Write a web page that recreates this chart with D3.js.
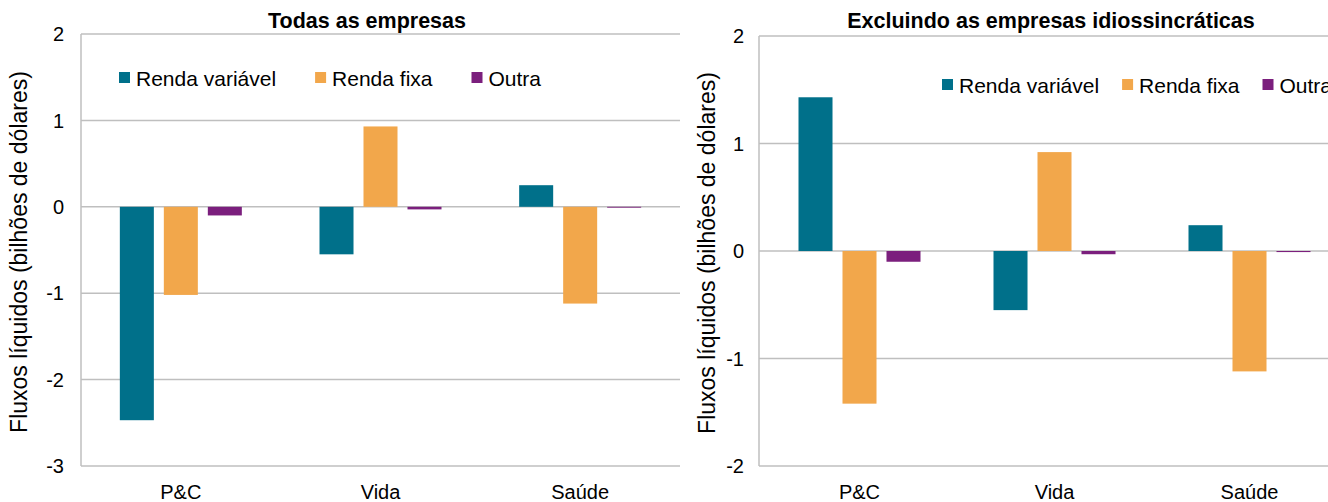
<!DOCTYPE html>
<html lang="pt">
<head>
    <meta charset="UTF-8">
    <title>Fluxos líquidos</title>
    <script src="https://d3js.org/d3.v7.min.js"></script>
    <style>
        body {margin: 0; background: white;}
        svg text {font-family: "Liberation Sans", Arial, sans-serif; fill: #000;}
    </style>
</head>
<body>
<script>
    const width = 1328;
    const height = 502;

    // data
    const categories = ["P&C", "Vida", "Saúde"];
    const seriesNames = ["Renda variável", "Renda fixa", "Outra"];
    const colors = ["#00708a", "#f2a74b", "#7b1f7d"];

    // Todas as empresas
    const allVariavel = [-2.47, -0.55, 0.25];
    const allFixa     = [-1.02, 0.93, -1.12];
    const allOutra    = [-0.10, -0.03, -0.01];

    // Excluindo as empresas idiossincráticas
    const exVariavel = [1.43, -0.55, 0.24];
    const exFixa     = [-1.42, 0.92, -1.12];
    const exOutra    = [-0.10, -0.03, -0.01];

    const yTicksAll = [2, 1, 0, -1, -2, -3];
    const yTicksEx  = [2, 1, 0, -1, -2];

    const yLabel = "Fluxos líquidos (bilhões de dólares)";

    const svg = d3.select("body").append("svg")
            .attr("width", width).attr("height", height);

    const panels = [
        {
            title: "Todas as empresas", titleX: 367,
            values: [allVariavel, allFixa, allOutra],
            domain: [-3, 2], ticks: yTicksAll,
            left: 81, right: 680, bandLeft: 81, bandRight: 680,
            top: 34, bottom: 466,
            tickX: 64, labelX: 19,
            legendX: 119, legendY: 78, legendGap: 39
        },
        {
            title: "Excluindo as empresas idiossincráticas", titleX: 1051,
            values: [exVariavel, exFixa, exOutra],
            domain: [-2, 2], ticks: yTicksEx,
            left: 759, right: 1328, bandLeft: 762, bandRight: 1347,
            top: 36, bottom: 466,
            tickX: 744, labelX: 707,
            legendX: 942, legendY: 85, legendGap: 23
        }
    ];

    panels.forEach(drawPanel);

    function drawPanel(p) {
        const g = svg.append("g");

        const y = d3.scaleLinear().domain(p.domain).range([p.bottom, p.top]);
        const x = d3.scaleBand().domain(categories).range([p.bandLeft, p.bandRight]);
        const inner = d3.scaleBand().domain(seriesNames).range([-61, 61]).paddingInner(0.227);

        // gridlines
        g.selectAll("line.grid")
                .data(p.ticks)
                .enter().append("line")
                .attr("class", "grid")
                .attr("x1", p.left).attr("x2", p.right)
                .attr("y1", d => y(d)).attr("y2", d => y(d))
                .style("stroke", "#bfbfbf")
                .style("stroke-width", 1.5);

        // left axis line
        g.append("line")
                .attr("x1", p.left).attr("x2", p.left)
                .attr("y1", p.top).attr("y2", p.bottom)
                .style("stroke", "#bfbfbf")
                .style("stroke-width", 1.5);

        // tick labels
        g.selectAll("text.tick")
                .data(p.ticks)
                .enter().append("text")
                .attr("class", "tick")
                .attr("x", p.tickX)
                .attr("y", d => y(d))
                .attr("dy", "0.36em")
                .attr("text-anchor", "end")
                .style("font-size", "20px")
                .text(d => d);

        // bars
        const rows = [];
        p.values.forEach((vals, si) => {
            vals.forEach((v, ci) => rows.push({cat: categories[ci], s: seriesNames[si], si: si, v: v}));
        });
        g.selectAll("rect.bar")
                .data(rows)
                .enter().append("rect")
                .attr("class", "bar")
                .attr("x", d => x(d.cat) + x.bandwidth() / 2 + inner(d.s))
                .attr("width", inner.bandwidth())
                .attr("y", d => y(Math.max(0, d.v)))
                .attr("height", d => Math.abs(y(d.v) - y(0)))
                .style("fill", d => colors[d.si]);

        // category labels
        g.selectAll("text.cat")
                .data(categories)
                .enter().append("text")
                .attr("class", "cat")
                .attr("x", d => x(d) + x.bandwidth() / 2)
                .attr("y", 499)
                .attr("text-anchor", "middle")
                .style("font-size", "20px")
                .text(d => d);

        // y axis title
        g.append("text")
                .attr("transform", "translate(" + p.labelX + "," + ((p.top + p.bottom) / 2 + 2) + ") rotate(-90)")
                .attr("dy", "0.36em")
                .attr("text-anchor", "middle")
                .style("font-size", "23px")
                .text(yLabel);

        // panel title
        g.append("text")
                .attr("x", p.titleX)
                .attr("y", 28)
                .attr("text-anchor", "middle")
                .style("font-size", "21.5px")
                .style("font-weight", "bold")
                .text(p.title);

        // legend
        const leg = g.append("g").attr("transform", "translate(" + p.legendX + "," + p.legendY + ")");
        let cx = 0;
        seriesNames.forEach((name, i) => {
            leg.append("rect")
                    .attr("x", cx).attr("y", -6)
                    .attr("width", 11).attr("height", 11)
                    .style("fill", colors[i]);
            const t = leg.append("text")
                    .attr("x", cx + 17)
                    .attr("y", 0)
                    .attr("dy", "0.36em")
                    .style("font-size", "21px")
                    .text(name);
            cx += 17 + t.node().getComputedTextLength() + p.legendGap;
        });
    }
</script>
</body>
</html>
